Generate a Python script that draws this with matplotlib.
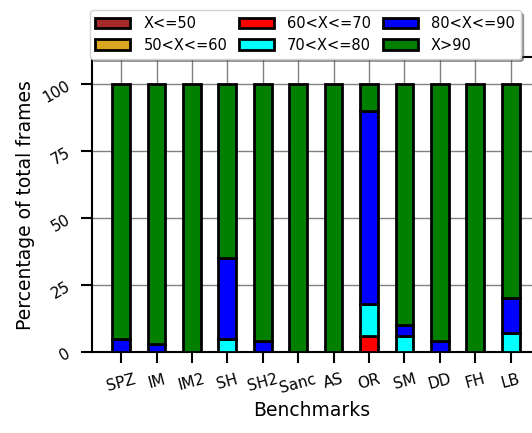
import numpy as np
import matplotlib
matplotlib.use('Agg')
import matplotlib.pyplot as plt

# Benchmarks and frame-time buckets (percent of frames)
benchmarks = ['SPZ', 'IM', 'IM2', 'SH', 'SH2', 'Sanc', 'AS', 'OR', 'SM', 'DD', 'FH', 'LB']
buckets = ['X<=50', '50<X<=60', '60<X<=70', '70<X<=80', '80<X<=90', 'X>90']
colors = ['brown', 'goldenrod', 'red', 'cyan', 'blue', 'green']

le50 = [0, 0, 0, 0, 0, 0, 0, 0, 0, 0, 0, 0]
b50_60 = [0, 0, 0, 0, 0, 0, 0, 0, 0, 0, 0, 0]
b60_70 = [0, 0, 0, 0, 0, 0, 0, 6, 0, 0, 0, 0]
b70_80 = [0, 0, 0, 5, 0, 0, 0, 12, 6, 0, 0, 7]
b80_90 = [5, 3, 0, 30, 4, 0, 0, 72, 4, 4, 0, 13]
gt90 = [95, 97, 100, 65, 96, 100, 100, 10, 90, 96, 100, 80]

series = [le50, b50_60, b60_70, b70_80, b80_90, gt90]

plt.rcParams['font.family'] = ['DejaVu Sans']
fig, ax = plt.subplots(figsize=(5.32, 4.33), dpi=100)
fig.subplots_adjust(left=0.173, right=1.0, top=0.868, bottom=0.187)

x = np.arange(len(benchmarks))
bottom = np.zeros(len(benchmarks))
for vals, lab, c in zip(series, buckets, colors):
    vals = np.array(vals, dtype=float)
    ax.bar(x, vals, 0.5, bottom=bottom, color=c, edgecolor='black',
           linewidth=2, label=lab, zorder=3)
    bottom += vals

ax.set_xlim(-0.82, 11.6)
ax.set_ylim(0, 110)
ax.set_yticks([0, 25, 50, 75, 100])
ax.set_xticks(x)
ax.set_xticklabels(benchmarks, rotation=15, fontsize=11)
plt.setp(ax.get_yticklabels(), rotation=30, fontsize=11)
ax.tick_params(direction='out', length=8, width=1.5, pad=6)
ax.grid(True, color='gray', linewidth=1, zorder=0)
ax.spines['right'].set_visible(False)
for s in ['left', 'bottom', 'top']:
    ax.spines[s].set_linewidth(1.5)

ax.set_xlabel('Benchmarks', fontsize=13.5)
ax.set_ylabel('Percentage of total frames', fontsize=13.5)

fig.legend(*ax.get_legend_handles_labels(), ncol=3, loc='upper right',
           bbox_to_anchor=(528 / 532, 1 - 3 / 433),
           fontsize=10.5, fancybox=True, shadow=True, handlelength=2.4,
           handletextpad=0.9, columnspacing=0.8, borderpad=0.4,
           labelspacing=0.45, edgecolor='lightgray', framealpha=1)

fig.savefig('out.png')
